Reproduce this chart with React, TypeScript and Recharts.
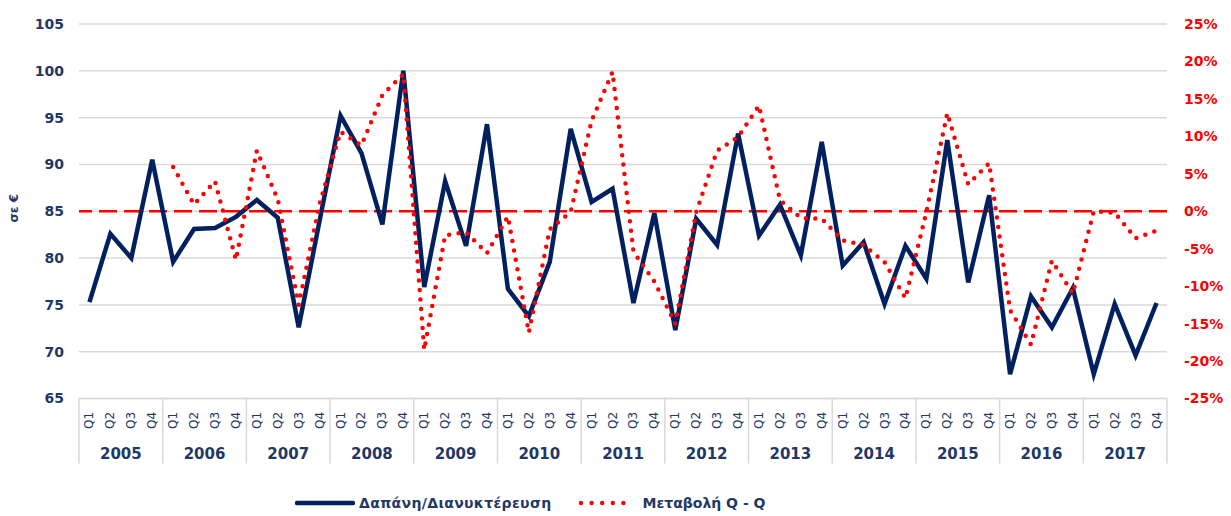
import React from "react"
import {
  LineChart,
  Line,
  XAxis,
  YAxis,
  CartesianGrid,
  ReferenceLine,
} from "recharts"

const years = [
  "2005", "2006", "2007", "2008", "2009", "2010", "2011",
  "2012", "2013", "2014", "2015", "2016", "2017",
]
const quarters = ["Q1", "Q2", "Q3", "Q4"]

// Δαπάνη/Διανυκτέρευση (σε €)
const spending = [
  75.3, 82.6, 80.0, 90.5,
  79.6, 83.1, 83.2, 84.4,
  86.2, 84.3, 72.6, 84.0,
  95.2, 91.2, 83.6, 100.0,
  76.9, 88.2, 81.3, 94.3,
  76.7, 73.8, 79.6, 93.8,
  86.0, 87.4, 75.2, 84.8,
  72.3, 84.2, 81.4, 93.3,
  82.4, 85.7, 80.3, 92.4,
  79.2, 81.7, 75.1, 81.3,
  77.8, 92.6, 77.4, 86.7,
  67.6, 75.9, 72.6, 76.8,
  67.6, 75.1, 69.6, 75.2,
]

// Μεταβολή Q - Q (%)
const changeQoQ: (number | null)[] = [
  null, null, null, null,
  5.9, 0.9, 4.0, -6.5,
  8.1, 1.6, -12.5, 1.0,
  10.6, 8.8, 15.5, 18.3,
  -18.5, -3.2, -2.8, -5.6,
  -0.7, -16.2, -2.4, -0.1,
  12.1, 18.6, -5.4, -9.4,
  -15.0, -0.1, 8.1, 9.9,
  14.1, 1.5, -0.9, -1.0,
  -3.9, -4.5, -6.8, -11.6,
  -0.1, 13.1, 3.6, 6.4,
  -13.2, -17.8, -6.6, -11.0,
  0.0, -0.2, -3.6, -2.6,
]

const leftTicks = [65, 70, 75, 80, 85, 90, 95, 100, 105]
const rightTicks = [-25, -20, -15, -10, -5, 0, 5, 10, 15, 20, 25]

const NAVY = "#002060"
const TEXT = "#1f3864"
const RED = "#ff0000"
const GRID = "#d9d9d9"
const FONT = "'DejaVu Sans', Verdana, sans-serif"

const W = 1231
const H = 516
const LEFT_W = 79
const RIGHT_W = 64
const BAND = (W - LEFT_W - RIGHT_W) / spending.length
const Q_AXIS_H = 36
const Y_AXIS_H = 29

const data = spending.map((v, i) => ({
  period: `${years[Math.floor(i / 4)]}-${quarters[i % 4]}`,
  quarter: quarters[i % 4],
  year: years[Math.floor(i / 4)],
  spending: v,
  change: changeQoQ[i],
}))

function QuarterTick(props: any) {
  const { x, y, index } = props
  const row = data[index]
  return (
    <g>
      {index % 4 === 0 && (
        <line x1={x - BAND / 2} x2={x - BAND / 2} y1={y} y2={y + Q_AXIS_H + Y_AXIS_H} stroke={GRID} strokeWidth={1.5} />
      )}
      {index === data.length - 1 && (
        <line x1={x + BAND / 2} x2={x + BAND / 2} y1={y} y2={y + Q_AXIS_H + Y_AXIS_H} stroke={GRID} strokeWidth={1.5} />
      )}
      <text
        x={x}
        y={y + 22}
        transform={`rotate(-90, ${x}, ${y + 22})`}
        textAnchor="middle"
        dominantBaseline="central"
        fill={TEXT}
        fontSize={12}
        fontFamily={FONT}
      >
        {row ? row.quarter : ""}
      </text>
    </g>
  )
}

function YearTick(props: any) {
  const { x, y, index } = props
  if (index % 4 !== 1) return <g />
  return (
    <text
      x={x + BAND / 2}
      y={y + 19}
      textAnchor="middle"
      dominantBaseline="central"
      fill={TEXT}
      fontSize={15}
      fontWeight="bold"
      fontFamily={FONT}
    >
      {data[index].year}
    </text>
  )
}

function UnitLabel(props: any) {
  const { viewBox } = props
  const cx = 14
  const cy = viewBox.y + viewBox.height / 2 - 3
  return (
    <text
      x={cx}
      y={cy}
      transform={`rotate(-90, ${cx}, ${cy})`}
      textAnchor="middle"
      dominantBaseline="central"
      fill={TEXT}
      fontSize={12}
      fontWeight="bold"
      fontFamily={FONT}
    >
      σε €
    </text>
  )
}

export default function App() {
  return (
    <div style={{ position: "absolute", left: 0, top: 0, width: W, height: H, background: "#fff" }}>
      <LineChart
        width={W}
        height={H}
        data={data}
        margin={{ top: 24, right: 0, left: 0, bottom: 52.5 }}
      >
        <CartesianGrid
          xAxisId="q"
          yAxisId="left"
          vertical={false}
          stroke={GRID}
          strokeWidth={1.5}
        />
        <XAxis
          xAxisId="q"
          dataKey="period"
          interval={0}
          height={Q_AXIS_H}
          padding={{ left: BAND / 2, right: BAND / 2 }}
          tickLine={false}
          tickSize={0}
          tickMargin={0}
          axisLine={{ stroke: GRID, strokeWidth: 1.5 }}
          tick={<QuarterTick />}
        />
        <XAxis
          xAxisId="year"
          dataKey="period"
          interval={0}
          height={Y_AXIS_H}
          padding={{ left: BAND / 2, right: BAND / 2 }}
          tickLine={false}
          tickSize={0}
          tickMargin={0}
          axisLine={false}
          tick={<YearTick />}
        />
        <YAxis
          yAxisId="left"
          orientation="left"
          width={LEFT_W}
          domain={[65, 105]}
          ticks={leftTicks}
          interval={0}
          axisLine={false}
          tickLine={false}
          tickSize={0}
          tickMargin={15}
          tick={{ fill: TEXT, fontSize: 14, fontWeight: "bold", fontFamily: FONT }}
          label={<UnitLabel />}
        />
        <YAxis
          yAxisId="right"
          orientation="right"
          width={RIGHT_W}
          domain={[-25, 25]}
          ticks={rightTicks}
          interval={0}
          axisLine={false}
          tickLine={false}
          tickSize={0}
          tickMargin={17}
          tickFormatter={(v) => `${v}%`}
          tick={{ fill: RED, fontSize: 14, fontWeight: "bold", fontFamily: FONT, textAnchor: "start" }}
        />
        <ReferenceLine
          xAxisId="q"
          yAxisId="right"
          y={0}
          stroke={RED}
          strokeWidth={2.5}
          strokeDasharray="18 7"
        />
        <Line
          xAxisId="q"
          yAxisId="left"
          type="linear"
          dataKey="spending"
          stroke={NAVY}
          strokeWidth={4.5}
          dot={false}
          isAnimationActive={false}
        />
        <Line
          xAxisId="q"
          yAxisId="right"
          type="linear"
          dataKey="change"
          stroke={RED}
          strokeWidth={4.5}
          strokeDasharray="0 9.5"
          strokeLinecap="round"
          dot={false}
          isAnimationActive={false}
        />
      </LineChart>
      <div
        style={{
          position: "absolute",
          left: 295,
          top: 495,
          display: "flex",
          alignItems: "center",
          fontFamily: FONT,
          fontSize: 14,
          fontWeight: "bold",
          color: TEXT,
          whiteSpace: "nowrap",
        }}
      >
        <svg width={60} height={10}>
          <line x1={2} x2={58} y1={5} y2={5} stroke={NAVY} strokeWidth={4.5} strokeLinecap="round" />
        </svg>
        <span style={{ marginLeft: 4, letterSpacing: 0.35 }}>Δαπάνη/Διανυκτέρευση</span>
        <svg width={58} height={10} style={{ marginLeft: 27 }}>
          <line x1={3} x2={56} y1={5} y2={5} stroke={RED} strokeWidth={4.5} strokeLinecap="round" strokeDasharray="0 10.6" />
        </svg>
        <span style={{ marginLeft: 6 }}>Μεταβολή Q - Q</span>
      </div>
    </div>
  )
}
